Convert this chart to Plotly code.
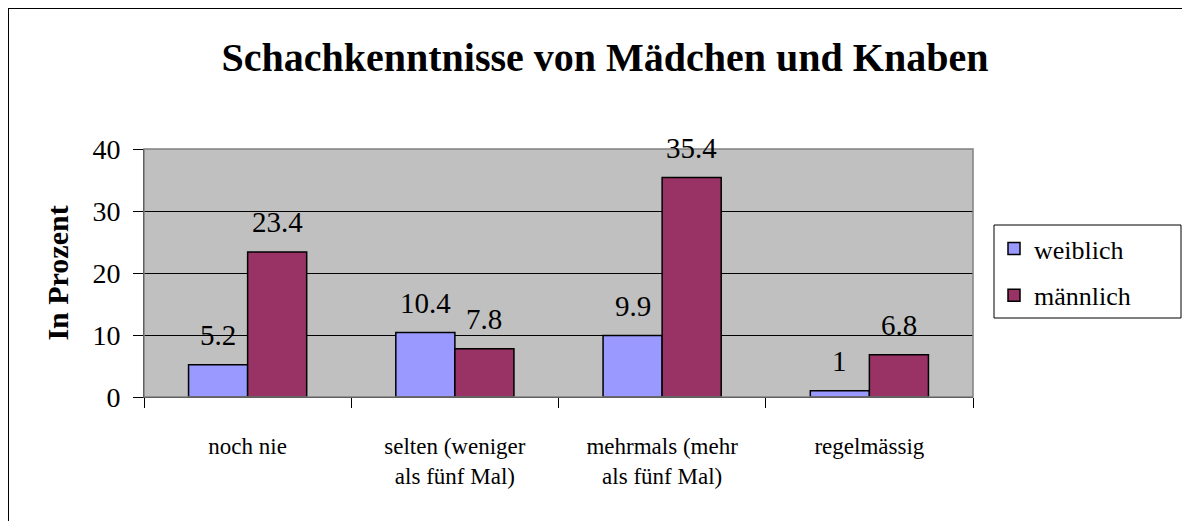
import plotly.graph_objects as go

# Chart data
categories = ["noch nie", "selten (weniger<br>als fünf Mal)", "mehrmals (mehr<br>als fünf Mal)", "regelmässig"]
weiblich = [5.2, 10.4, 9.9, 1]
maennlich = [23.4, 7.8, 35.4, 6.8]
series_names = ["weiblich", "männlich"]

FONT = "Liberation Serif, Times New Roman, serif"
# the page body has an 8px margin, so the figure is laid out 8px up/left
OFF = 8
W, H = 1182, 513
L, T = 144 - OFF, 149 - OFF
pw, ph = 829, 248
R, B = W - L - pw, H - T - ph


def px_x(sx):
    # screen x -> paper x
    return (sx - 144) / pw


def px_y(sy):
    # screen y -> paper y
    return (397 - sy) / ph


fig = go.Figure()
fig.add_trace(go.Bar(
    x=categories, y=weiblich, name=series_names[0], legendgroup="w",
    marker=dict(color="#9999FF", line=dict(color="black", width=1.5)),
))
fig.add_trace(go.Bar(
    x=categories, y=maennlich, name=series_names[1], legendgroup="m",
    marker=dict(color="#993366", line=dict(color="black", width=1.5)),
))

# Data labels above the bars (Excel style, offset from bar top)
for vals, shift in [(weiblich, -29.5), (maennlich, 29.5)]:
    for cat, v in zip(categories, vals):
        fig.add_annotation(
            x=cat, y=v, text=f"{v:g}", showarrow=False,
            xshift=shift, yshift=30, yanchor="middle",
            font=dict(family=FONT, size=29, color="black"),
        )

# outer chart border (only left and top edges are inside the picture)
fig.add_shape(
    type="rect", xref="paper", yref="paper",
    x0=px_x(8), x1=px_x(1200), y0=px_y(540), y1=px_y(8),
    line=dict(color="black", width=2), layer="above",
)
# plot area frame
fig.add_shape(
    type="rect", xref="paper", yref="paper", x0=0, x1=1, y0=0, y1=1,
    line=dict(color="#808080", width=1.5), layer="above",
)
# legend box
fig.add_shape(
    type="rect", xref="paper", yref="paper",
    x0=px_x(994), x1=px_x(1181), y0=px_y(318), y1=px_y(225),
    line=dict(color="black", width=1), layer="above",
)

fig.update_layout(
    width=W, height=H,
    margin=dict(l=L, r=R, t=T, b=B),
    paper_bgcolor="white",
    plot_bgcolor="#C0C0C0",
    barmode="group", bargap=0.43, bargroupgap=0,
    font=dict(family=FONT, color="black"),
    title=dict(
        text="<b>Schachkenntnisse von Mädchen und Knaben</b>",
        x=(605 - OFF) / W, xref="container", xanchor="center",
        y=1 - (57 - OFF) / H, yref="container", yanchor="middle",
        font=dict(family=FONT, size=40, color="black"),
    ),
    legend=dict(
        x=px_x(994), y=px_y(225), xanchor="left", yanchor="top",
        borderwidth=0, bgcolor="rgba(0,0,0,0)",
        font=dict(family=FONT, size=26, color="black"),
        tracegroupgap=10,
    ),
    xaxis=dict(
        showline=True, linecolor="black", linewidth=1,
        ticks="outside", tickson="boundaries", ticklen=10, tickcolor="black",
        tickfont=dict(family=FONT, size=23, color="black"),
        ticklabelstandoff=28,
        showgrid=False,
    ),
    yaxis=dict(
        range=[0, 40], dtick=10,
        showline=True, linecolor="black", linewidth=1,
        ticks="outside", ticklen=10, tickcolor="black",
        tickfont=dict(family=FONT, size=28, color="black"),
        ticklabelstandoff=7,
        showgrid=True, gridcolor="black", gridwidth=1,
        zeroline=False,
        title=dict(text="<b>In Prozent</b>", standoff=14,
                   font=dict(family=FONT, size=30, color="black")),
    ),
)

fig.write_html("out.html")
